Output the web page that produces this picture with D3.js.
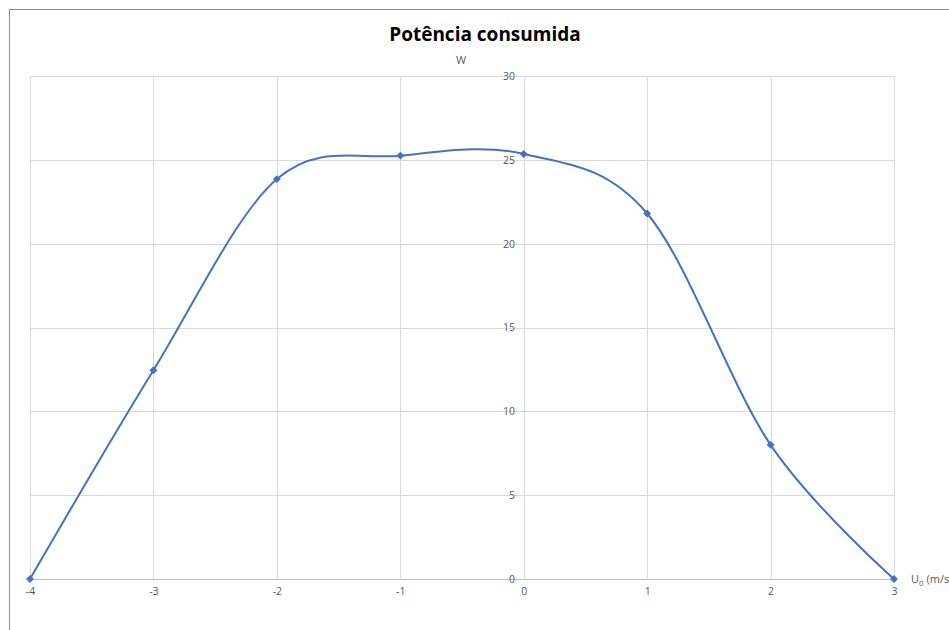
<!DOCTYPE html>
<html>
<head>
<meta charset="utf-8">
<script src="https://cdn.jsdelivr.net/npm/d3@7"></script>
<style>
    body { margin: 0; background: #fff; }
    .grid line { stroke: #d9d9d9; stroke-width: 1; }
    .axis text { font-family: "Open Sans", sans-serif; font-size: 10.5px; fill: #595959; }
    .line { fill: none; stroke: #4472c4; stroke-width: 2; }
</style>
</head>
<body>
<svg id="chart" width="949" height="630"></svg>
<script>
    var velocidade = [-4, -3, -2, -1, 0, 1, 2, 3],
        potencia = [0, 12.45, 23.85, 25.25, 25.35, 21.8, 8.0, 0],
        yTicks = [0, 5, 10, 15, 20, 25, 30];

    var data = velocidade.map(function (v, i) { return { u: v, p: potencia[i] }; });

    var svg = d3.select("#chart");

    // moldura do grafico
    svg.append("rect")
        .attr("x", 9.5).attr("y", 9.5)
        .attr("width", 960).attr("height", 640)
        .attr("fill", "none")
        .attr("stroke", "#8c8c8c");

    var x = d3.scaleLinear().domain([-4, 3]).range([30, 894]),
        y = d3.scaleLinear().domain([0, 30]).range([579, 76]);

    var grid = svg.append("g").attr("class", "grid");
    grid.selectAll(".h").data(yTicks).enter().append("line")
        .attr("x1", x(-4)).attr("x2", x(3))
        .attr("y1", function (d) { return Math.round(y(d)) + 0.5; })
        .attr("y2", function (d) { return Math.round(y(d)) + 0.5; });
    grid.selectAll(".v").data(velocidade).enter().append("line")
        .attr("x1", function (d) { return Math.round(x(d)) + 0.5; })
        .attr("x2", function (d) { return Math.round(x(d)) + 0.5; })
        .attr("y1", y(0)).attr("y2", y(30));

    // eixo x
    svg.append("line")
        .attr("x1", x(-4)).attr("x2", x(3))
        .attr("y1", Math.round(y(0)) + 0.5).attr("y2", Math.round(y(0)) + 0.5)
        .attr("stroke", "#bfbfbf");

    var xAxis = svg.append("g").attr("class", "axis")
        .attr("transform", "translate(0," + Math.round(y(0)) + ")")
        .call(d3.axisBottom(x).tickValues(velocidade).tickSize(0).tickPadding(9).tickFormat(d3.format("d")));
    xAxis.select(".domain").remove();
    xAxis.selectAll("text").text(function (d) { return d < 0 ? "-" + Math.abs(d) : d; });

    var yAxis = svg.append("g").attr("class", "axis")
        .attr("transform", "translate(" + Math.round(x(0)) + ",0)")
        .call(d3.axisLeft(y).tickValues(yTicks).tickSize(0).tickPadding(9));
    yAxis.select(".domain").remove();

    var linha = d3.line()
        .x(function (d) { return x(d.u); })
        .y(function (d) { return y(d.p); })
        .curve(d3.curveCardinal.tension(0));

    svg.append("path").datum(data).attr("class", "line").attr("d", linha);

    svg.selectAll(".ponto").data(data).enter().append("path")
        .attr("class", "ponto")
        .attr("d", d3.symbol(d3.symbolDiamond2, 40))
        .attr("transform", function (d) { return "translate(" + x(d.u) + "," + y(d.p) + ")"; })
        .attr("fill", "#4472c4");

    svg.append("text")
        .attr("x", 485).attr("y", 41)
        .attr("text-anchor", "middle")
        .style("font-family", "'Open Sans', sans-serif")
        .style("font-weight", "bold")
        .style("font-size", "19px")
        .attr("fill", "#000")
        .text("Potência consumida");

    svg.append("text")
        .attr("x", 461).attr("y", 64)
        .attr("text-anchor", "middle")
        .style("font-family", "'Open Sans', sans-serif")
        .style("font-size", "11px")
        .attr("fill", "#595959")
        .text("W");

    var ulabel = svg.append("text")
        .attr("x", 911).attr("y", 583)
        .style("font-family", "'Open Sans', sans-serif")
        .style("font-size", "11px")
        .attr("fill", "#595959");
    ulabel.append("tspan").text("U");
    ulabel.append("tspan").attr("dy", 3).style("font-size", "8px").text("0");
    ulabel.append("tspan").attr("dy", -3).text(" (m/s)");
</script>
</body>
</html>
